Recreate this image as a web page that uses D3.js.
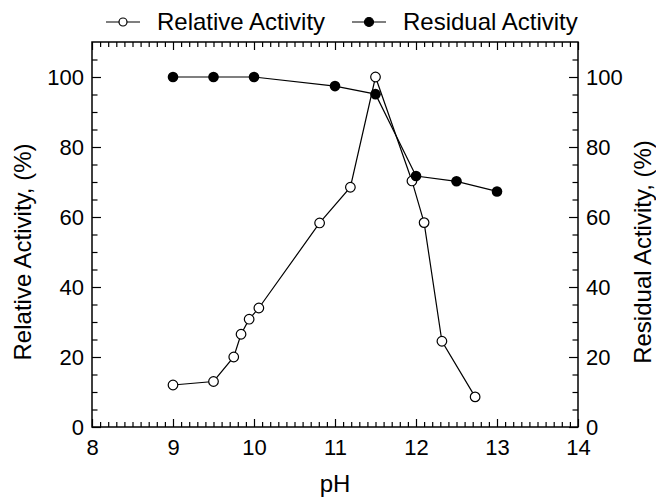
<!DOCTYPE html>
<html>
<head>
<meta charset="utf-8">
<script src="https://cdn.jsdelivr.net/npm/d3@7"></script>
<style>
  html, body { margin: 0; padding: 0; background: #fff; }
  svg text { font-family: "Liberation Sans", Arial, Helvetica, sans-serif; fill: #000; }
</style>
</head>
<body>
<svg id="chart" width="656" height="498"></svg>
<script>
// ---- data ----
const relPH = [9.0, 9.5, 9.75, 9.84, 9.94, 10.06, 10.81, 11.19, 11.5, 11.95, 12.1, 12.32, 12.73];
const relVal = [12, 13, 20, 26.5, 30.8, 34, 58.3, 68.5, 100, 70.3, 58.4, 24.5, 8.6];
const resPH = [9.0, 9.5, 10.0, 11.0, 11.5, 12.0, 12.5, 13.0];
const resVal = [100, 100, 100, 97.4, 95.1, 71.7, 70.2, 67.3];
const xTicks = [8, 9, 10, 11, 12, 13, 14];
const yTicks = [0, 20, 40, 60, 80, 100];
const seriesNames = ["Relative Activity", "Residual Activity"];
const xTitle = "pH";
const yTitleLeft = "Relative Activity, (%)";
const yTitleRight = "Residual Activity, (%)";

// ---- layout ----
const svg = d3.select("#chart");
const L = 92, R = 578, T = 42, B = 427;
const x = d3.scaleLinear().domain([8, 14]).range([L, R]);
const y = d3.scaleLinear().domain([0, 110]).range([B, T]);
const tickFont = 22, titleFont = 24, legendFont = 24;

const xMinor = d3.range(80, 141).map(v => v / 10).filter(v => !xTicks.includes(v));
const yMinor = d3.range(5, 110, 5).filter(v => !yTicks.includes(v));

function styleAxis(g) {
  g.select(".domain").remove();
  g.selectAll(".tick line").attr("stroke", "#000").attr("stroke-width", 1.2);
}

// bottom
svg.append("g").attr("transform", `translate(0,${B})`)
  .call(d3.axisBottom(x).tickValues(xMinor).tickSize(-5).tickFormat(""))
  .call(styleAxis);
svg.append("g").attr("transform", `translate(0,${B})`)
  .call(d3.axisBottom(x).tickValues(xTicks).tickSize(-8).tickPadding(12).tickFormat(d3.format("d")))
  .call(styleAxis)
  .selectAll("text").attr("font-size", tickFont);
// top
svg.append("g").attr("transform", `translate(0,${T})`)
  .call(d3.axisTop(x).tickValues(xMinor).tickSize(-5).tickFormat(""))
  .call(styleAxis);
svg.append("g").attr("transform", `translate(0,${T})`)
  .call(d3.axisTop(x).tickValues(xTicks).tickSize(-8).tickFormat(""))
  .call(styleAxis);
// left
svg.append("g").attr("transform", `translate(${L},0)`)
  .call(d3.axisLeft(y).tickValues(yMinor).tickSize(-5.5).tickFormat(""))
  .call(styleAxis);
svg.append("g").attr("transform", `translate(${L},0)`)
  .call(d3.axisLeft(y).tickValues(yTicks).tickSize(-9).tickPadding(8).tickFormat(d3.format("d")))
  .call(styleAxis)
  .selectAll("text").attr("font-size", tickFont);
// right
svg.append("g").attr("transform", `translate(${R},0)`)
  .call(d3.axisRight(y).tickValues(yMinor).tickSize(-5.5).tickFormat(""))
  .call(styleAxis);
svg.append("g").attr("transform", `translate(${R},0)`)
  .call(d3.axisRight(y).tickValues(yTicks).tickSize(-9).tickPadding(8).tickFormat(d3.format("d")))
  .call(styleAxis)
  .selectAll("text").attr("font-size", tickFont);

// frame
svg.append("rect").attr("x", L).attr("y", T).attr("width", R - L).attr("height", B - T)
  .attr("fill", "none").attr("stroke", "#000").attr("stroke-width", 1.5);

// titles
const titleMid = 252;
svg.append("text").attr("x", (L + R) / 2).attr("y", 492).attr("text-anchor", "middle")
  .attr("font-size", titleFont).text(xTitle);
svg.append("text").attr("transform", `translate(31,${titleMid}) rotate(-90)`)
  .attr("text-anchor", "middle").attr("font-size", titleFont).text(yTitleLeft);
svg.append("text").attr("transform", `translate(651,${titleMid}) rotate(-90)`)
  .attr("text-anchor", "middle").attr("font-size", titleFont).text(yTitleRight);

// series
const line = d3.line().x(d => x(d[0])).y(d => y(d[1]));
const rel = relPH.map((p, i) => [p, relVal[i]]);
const res = resPH.map((p, i) => [p, resVal[i]]);

svg.append("path").datum(rel).attr("d", line).attr("fill", "none").attr("stroke", "#000").attr("stroke-width", 1.2);
svg.append("path").datum(res).attr("d", line).attr("fill", "none").attr("stroke", "#000").attr("stroke-width", 1.2);

svg.append("g").selectAll("circle").data(rel).join("circle")
  .attr("cx", d => x(d[0])).attr("cy", d => y(d[1])).attr("r", 4.8)
  .attr("fill", "#fff").attr("stroke", "#000").attr("stroke-width", 1.2);
svg.append("g").selectAll("circle").data(res).join("circle")
  .attr("cx", d => x(d[0])).attr("cy", d => y(d[1])).attr("r", 5.3)
  .attr("fill", "#000");

// legend
const legend = [
  { name: seriesNames[0], x0: 106, filled: false },
  { name: seriesNames[1], x0: 352, filled: true }
];
const lg = svg.append("g");
legend.forEach(l => {
  lg.append("line").attr("x1", l.x0).attr("x2", l.x0 + 34).attr("y1", 22).attr("y2", 22)
    .attr("stroke", "#000").attr("stroke-width", 1.2);
  lg.append("circle").attr("cx", l.x0 + 17).attr("cy", 22).attr("r", l.filled ? 4.5 : 4)
    .attr("fill", l.filled ? "#000" : "#fff").attr("stroke", "#000").attr("stroke-width", 1.2);
  lg.append("text").attr("x", l.x0 + 51).attr("y", 30).attr("font-size", legendFont).text(l.name);
});
</script>
</body>
</html>
